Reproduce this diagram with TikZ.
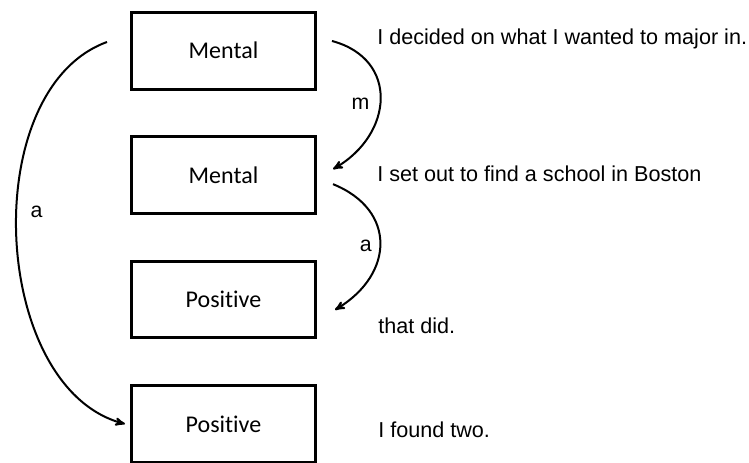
\documentclass[tikz,border=0pt]{standalone}
\usepackage{fontspec}
\setmainfont{Liberation Sans}
\newfontfamily\calfont[Ligatures=NoCommon]{Carlito}
\usetikzlibrary{arrows,positioning}
\tikzset{
  evt_box/.style = {rectangle, draw=black, line width=2.25pt,
    minimum width=138pt, minimum height=57.4pt, outer sep=0pt,
    inner sep=0pt, font=\calfont\fontsize{18}{21}\selectfont},
  evt_txt/.style = {anchor=base west, inner sep=0pt,
    font=\fontsize{16.2}{19}\selectfont},
  lnk/.style = {->, >=stealth', line width=1.5pt},
  lnk_lbl/.style = {inner sep=0pt, font=\fontsize{16}{19}\selectfont},
}

\begin{document}
\begin{tikzpicture}[x=0.75pt, y=0.75pt, node distance=35.9pt]
  \useasboundingbox (0,0) rectangle (749,463);
  % the four boxes
  \node [evt_box] (ment1) at (223.5,412.25) {Mental};
  \node [evt_box, below=of ment1] (ment2) {Mental};
  \node [evt_box, below=of ment2] (pos1) {Positive};
  \node [evt_box, below=of pos1] (pos2) {Positive};
  % the sentences
  \node [evt_txt] (txt1) at (377,418) {I decided on what I wanted to major in.};
  \node [evt_txt] (txt2) at (377,281) {I set out to find a school in Boston};
  \node [evt_txt] (txt3) at (378,129) {that did.};
  \node [evt_txt] (txt4) at (378,25) {I found two.};
  % ends of the links
  \coordinate (m1r) at ([shift={(16.5,9.75)}]ment1.east);
  \coordinate (m2ra) at ([shift={(17.5,6)}]ment2.east);
  \coordinate (m2rb) at ([shift={(17.5,-9)}]ment2.east);
  \coordinate (p1r) at ([shift={(19.5,-10.3)}]pos1.east);
  \coordinate (m1l) at ([shift={(-24.5,8.75)}]ment1.west);
  \coordinate (p2l) at ([shift={(-6.5,0)}]pos2.west);
  % links
  \draw [lnk] (m1r) to[out=-15, in=30, looseness=1.39]
    node [lnk_lbl, midway, left=7.5pt, yshift=-3.5pt] {m} (m2ra);
  \draw [lnk] (m2rb) to[out=-22, in=31, looseness=1.4]
    node [lnk_lbl, midway, left=5.5pt, yshift=-1.5pt] {a} (p1r);
  \draw [lnk] (m1l) to[out=200, in=165, looseness=0.93]
    node [lnk_lbl, pos=0.45, right=10pt] {a} (p2l);
\end{tikzpicture}
\end{document}
